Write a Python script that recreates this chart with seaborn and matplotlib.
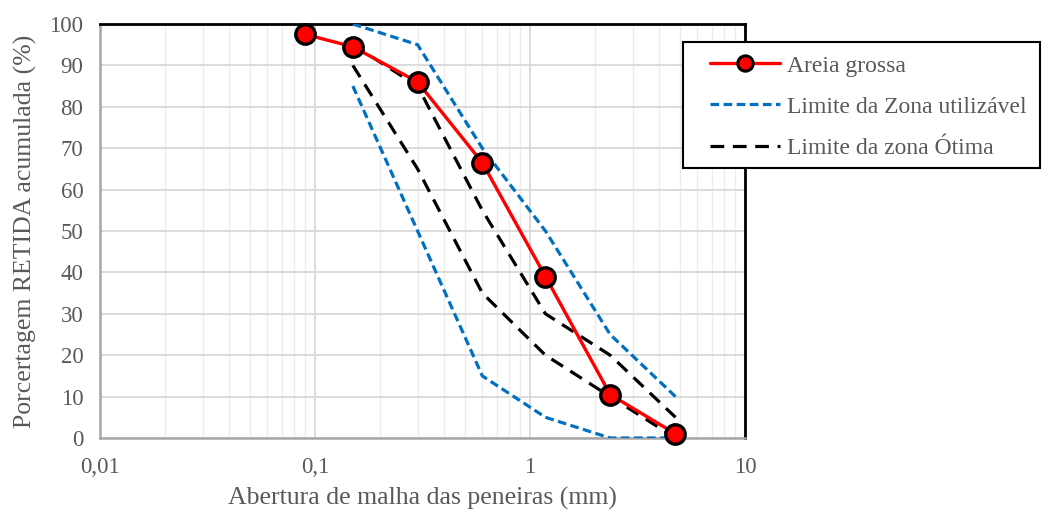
import matplotlib.pyplot as plt
import pandas as pd
import seaborn as sns
from matplotlib.lines import Line2D
from matplotlib.patches import Rectangle
from matplotlib.ticker import FixedLocator, FuncFormatter, LogLocator, NullFormatter

# Sieve openings (mm)
peneiras = [0.09, 0.15, 0.3, 0.6, 1.18, 2.36, 4.75]
areia_grossa = [97.5, 94.5, 86, 66.5, 39, 10.5, 1]

limites_abertura = [0.15, 0.3, 0.6, 1.18, 2.36, 4.75]
utilizavel_sup = [100, 95, 70, 50, 25, 10]
utilizavel_inf = [85, 50, 15, 5, 0, 0]
otima_sup = [95, 85, 55, 30, 20, 5]
otima_inf = [90, 65, 35, 20, 10, 0]

sns.set_style("white")
plt.rcParams["font.family"] = ["Liberation Serif", "DejaVu Serif"]
cor_texto = "#595959"
azul_tracos = (0, (2.7, 1.4))
preto_tracos = (0, (4.3, 2.7))

fig = plt.figure(figsize=(10.43, 5.15), dpi=100)
ax = fig.add_axes([100 / 1043, 77 / 515, 645 / 1043, 414 / 515])

df_areia = pd.DataFrame({"abertura": peneiras, "retida": areia_grossa})

# Zone limits
for valores in [utilizavel_sup, utilizavel_inf]:
    df_lim = pd.DataFrame({"abertura": limites_abertura, "retida": valores})
    sns.lineplot(data=df_lim, x="abertura", y="retida", ax=ax, color="#0070c0",
                 linestyle=azul_tracos, linewidth=2.3, zorder=3)
for valores in [otima_sup, otima_inf]:
    df_lim = pd.DataFrame({"abertura": limites_abertura, "retida": valores})
    sns.lineplot(data=df_lim, x="abertura", y="retida", ax=ax, color="black",
                 linestyle=preto_tracos, linewidth=2.3, zorder=3)

sns.lineplot(data=df_areia, x="abertura", y="retida", ax=ax, color="red", linewidth=2.4,
             marker="o", markersize=14, markerfacecolor="red", markeredgecolor="black",
             markeredgewidth=2.4, zorder=5, clip_on=False)

ax.set_xscale("log")
ax.set_xlim(0.01, 10)
ax.set_ylim(0, 100)
ax.xaxis.set_major_locator(FixedLocator([0.01, 0.1, 1, 10]))
ax.xaxis.set_major_formatter(FuncFormatter(lambda v, p: {0.01: "0,01", 0.1: "0,1", 1: "1", 10: "10"}.get(round(v, 2), "")))
ax.xaxis.set_minor_locator(LogLocator(base=10, subs=range(2, 10)))
ax.xaxis.set_minor_formatter(NullFormatter())
ax.set_yticks(range(0, 101, 10))

ax.grid(True, which="major", color="#d9d9d9", linewidth=1.3)
ax.grid(True, which="minor", axis="x", color="#ececec", linewidth=1.0)
ax.set_axisbelow(True)

for lado in ["top", "right"]:
    ax.spines[lado].set_color("black")
    ax.spines[lado].set_linewidth(2.0)
for lado in ["left", "bottom"]:
    ax.spines[lado].set_color("#a6a6a6")
    ax.spines[lado].set_linewidth(1.8)

ax.tick_params(axis="both", which="both", length=0, labelsize=16.5, labelcolor=cor_texto)
ax.tick_params(axis="y", pad=12)
ax.tick_params(axis="x", pad=14)
ax.set_xlabel("Abertura de malha das peneiras (mm)", fontsize=18.5, color=cor_texto, labelpad=6)
ax.set_ylabel("Porcertagem RETIDA acumulada (%)", fontsize=18.5, color=cor_texto, labelpad=9)

# Legend frame drawn in figure pixels, legend entries inside it
fig.add_artist(Rectangle((683 / 1043, 1 - 168 / 515), 357 / 1043, 126 / 515,
                         transform=fig.transFigure, facecolor="white", edgecolor="black",
                         linewidth=1.5, zorder=9))
handles = [
    Line2D([], [], color="red", linewidth=2.4, marker="o", markersize=11, markerfacecolor="red",
           markeredgecolor="black", markeredgewidth=2.2),
    Line2D([], [], color="#0070c0", linestyle=azul_tracos, linewidth=2.3),
    Line2D([], [], color="black", linestyle=preto_tracos, linewidth=2.3),
]
labels = ["Areia grossa", "Limite da Zona utilizável", "Limite da zona Ótima"]
leg = fig.legend(handles, labels, loc="upper left", bbox_to_anchor=(710 / 1043, 1 - 55 / 515),
                 bbox_transform=fig.transFigure, fontsize=17, frameon=False,
                 handlelength=2.95, labelspacing=0.83, borderpad=0, handletextpad=0.3,
                 borderaxespad=0)
for t in leg.get_texts():
    t.set_color(cor_texto)
leg.set_zorder(10)

fig.savefig("out.png", dpi=100)
